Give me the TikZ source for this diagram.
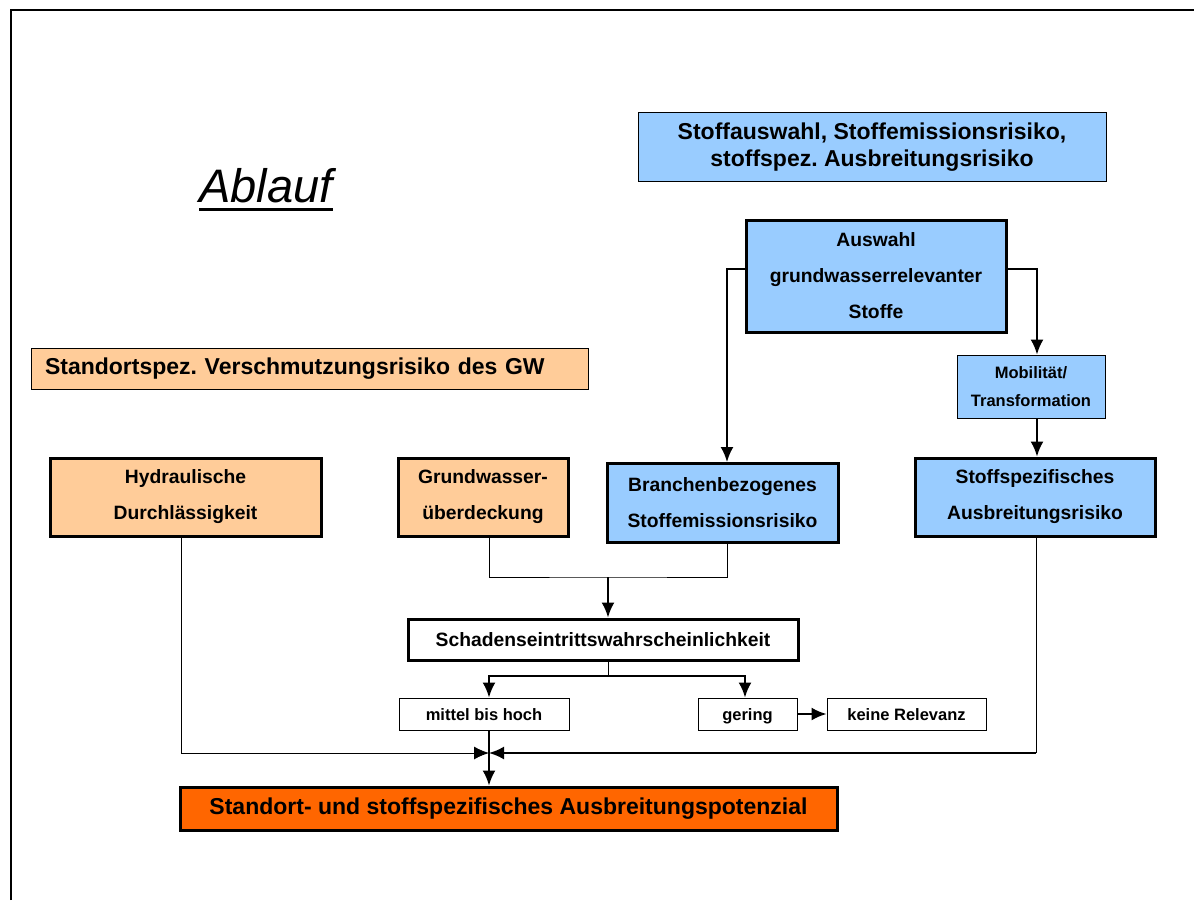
\documentclass[tikz,border=0pt]{standalone}
\usepackage{fontspec}
\setmainfont{Liberation Sans}
\usetikzlibrary{arrows.meta,calc}
\definecolor{lblue}{HTML}{99CCFF}
\definecolor{peach}{HTML}{FFCC99}
\definecolor{orng}{HTML}{FF6600}
\newcommand\fz[2]{\fontsize{#1}{#2}\selectfont}
\frenchspacing
\begin{document}
\begin{tikzpicture}[x=1pt,y=-1pt,
  box/.style={draw, line width=1pt, inner sep=0pt, align=center, font=\bfseries},
  tbox/.style={box, line width=3pt},
  big/.style={font=\bfseries\fz{23}{27}},
  mid/.style={font=\bfseries\fz{19.3}{36}},
  sml/.style={font=\bfseries\fz{16.5}{28}},
  sml1/.style={sml, text height=14pt, text depth=2pt},
  arr/.style={line width=2pt, -{Latex[length=15pt,width=13pt]}},
  tarr/.style={line width=1pt, -{Latex[length=15pt,width=13pt]}},
  ln/.style={line width=1pt}]
\useasboundingbox (0,0) rectangle (1194,900);
\draw[line width=2pt] (11,900) -- (11,10) -- (1194,10);

\node[anchor=base west, inner sep=0pt, font=\itshape\fz{47}{50}] (abl) at (199,202) {Ablauf};
\draw[line width=3pt] ($(abl.base west)+(0,7)$) -- ($(abl.base east)+(0,7)$);

\node[box, big, fill=lblue, minimum width=468, minimum height=69] (top) at (872,147)
  {Stoffauswahl, Stoffemissionsrisiko,\\stoffspez. Ausbreitungsrisiko};
\node[tbox, mid, fill=lblue, minimum width=260, minimum height=112] (aus) at (876,276)
  {Auswahl\\grundwasserrelevanter\\Stoffe};
\node[box, sml, fill=lblue, minimum width=148, minimum height=63] (mob) at (1031,386.5)
  {Mobilität/\\Transformation};
\node[box, big, fill=peach, text width=529, inner xsep=14, minimum height=41, align=left] (gwr) at (309.5,368.5)
  {Standortspez. Verschmutzungsrisiko des GW};

\node[tbox, mid, fill=peach, minimum width=271, minimum height=78] (hyd) at (185.5,497)
  {Hydraulische\\Durchlässigkeit};
\node[tbox, mid, fill=peach, minimum width=170, minimum height=78] (gwu) at (483,497)
  {Grundwasser-\\überdeckung};
\node[tbox, mid, fill=lblue, minimum width=231, minimum height=79] (bra) at (722.5,503)
  {Branchenbezogenes\\Stoffemissionsrisiko};
\node[tbox, mid, fill=lblue, minimum width=240, minimum height=78] (sto) at (1035,497)
  {Stoffspezifisches\\Ausbreitungsrisiko};

\node[tbox, mid, fill=white, minimum width=390, minimum height=41] (sch) at (603,639.5)
  {Schadenseintrittswahrscheinlichkeit};
\node[box, sml1, minimum width=170, minimum height=32] (mit) at (484,714) {mittel bis hoch};
\node[box, sml1, minimum width=99, minimum height=32] (ger) at (747.5,714) {gering};
\node[box, sml1, minimum width=159, minimum height=32] (kei) at (906.5,714) {keine Relevanz};

\node[tbox, big, fill=orng, minimum width=657, minimum height=43] (std) at (508.5,808.5)
  {Standort- und stoffspezifisches Ausbreitungspotenzial};

\coordinate (J) at (489,753);
\coordinate (M) at (608,577);
\coordinate (S) at (608,676);
\coordinate (SD) at ($(sto.south)+(1,0)$);
\coordinate (HD) at ($(hyd.south)+(-4.5,0)$);

\draw[arr] ($(aus.west)+(0,-7)$) -| ($(bra.north)+(4.5,0)$);
\draw[arr] ($(aus.east)+(0,-7)$) -| ($(mob.north)+(6,0)$);
\draw[arr] ($(mob.south)+(6,0)$) -- ($(sto.north)+(2,0)$);

\draw[ln] ($(gwu.south)+(6,0)$) |- (M) -| ($(bra.south)+(4.5,0)$);
\draw[arr] (M) -- (M |- sch.north);

\draw[ln] (S |- sch.south) -- (S);
\draw[arr] (S) -| ($(mit.north)+(5,0)$);
\draw[arr] (S) -| ($(ger.north)+(-2.5,0)$);
\draw[arr] (ger.east) -- (kei.west);

\draw[tarr] (HD) |- (J);
\draw[ln] (SD) -- (SD |- J);
\draw[arr] (SD |- J) -- (J);
\draw[arr] ($(mit.south)+(5,0)$) -- (J |- std.north);
\end{tikzpicture}
\end{document}
